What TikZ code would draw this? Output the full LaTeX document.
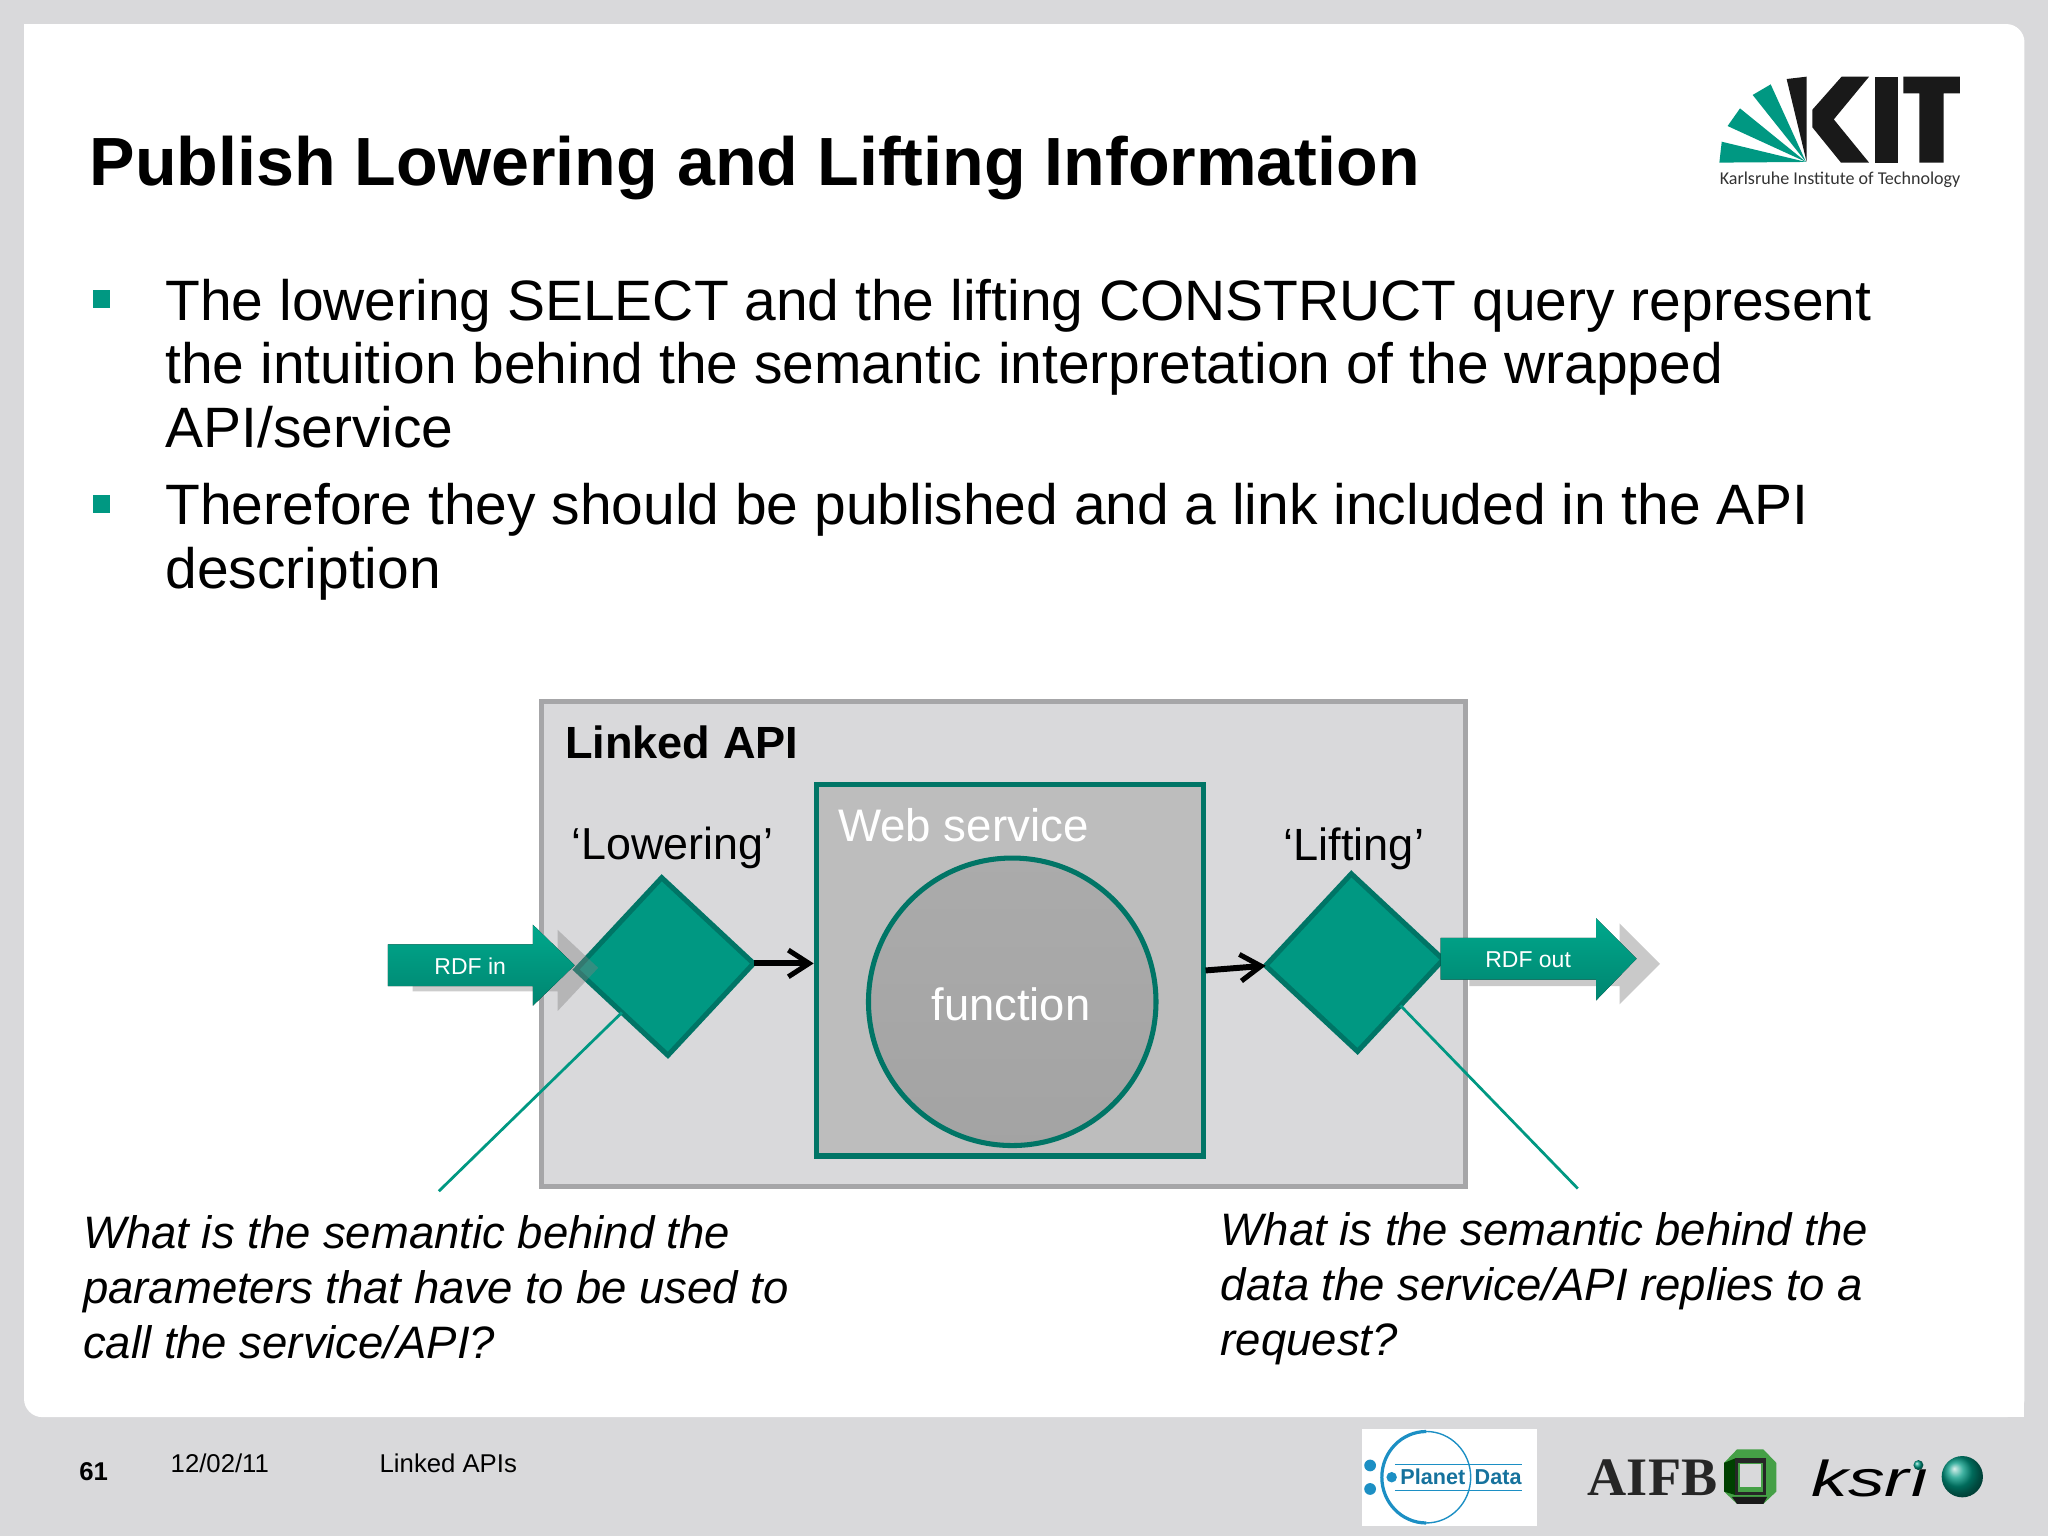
\documentclass[tikz,border=0pt]{standalone}
\usepackage{fontspec}
\setmainfont{Liberation Sans}
\newfontfamily\kitfont{Carlito}
\usetikzlibrary{arrows.meta,shapes.geometric}
\definecolor{kitteal}{HTML}{009882}
\definecolor{kitdark}{HTML}{007566}
\definecolor{arrowlight}{HTML}{00A88C}
\definecolor{arrowdeep}{HTML}{008570}
\definecolor{slidegrey}{HTML}{D9D9DB}
\definecolor{framegrey}{HTML}{A6A6A8}
\definecolor{planetblue}{HTML}{1C8FC4}
\definecolor{aifbgreen}{HTML}{45A046}
\tikzset{
    bodytext/.style={anchor=north west, align=left, inner sep=0, font=\fontsize{12.4pt}{13.8pt}\selectfont},
    asktext/.style={anchor=north west, align=left, inner sep=0, font=\fontsize{9.9pt}{12pt}\selectfont\itshape},
    foottext/.style={anchor=west, inner sep=0, font=\fontsize{5.6pt}{7pt}\selectfont},
    rdftext/.style={inner sep=0, text=white, font=\fontsize{5pt}{6pt}\selectfont},
    shiftbox/.style={diamond, draw=kitdark, fill=kitteal, line width=1.1pt, aspect=1, inner sep=0, outer sep=0, minimum size=1.36cm, rotate=2},
    callout/.style={draw=kitteal, line width=0.6pt},
    hop/.style={draw=black, line width=1.3pt, -{Straight Barb[length=4.5pt,width=5.8pt,line width=1.1pt]}},
    rdfarrow/.style={top color=arrowlight, bottom color=arrowdeep}
}
\begin{document}
\begin{tikzpicture}[x=0.01cm,y=-0.01cm]
    \useasboundingbox (0,0) rectangle (1568,1176);
    \fill[slidegrey] (0,0) rectangle (1568,1176);
    \fill[white, rounded corners=0.14cm] (18.4,18.4) rectangle (1550,1085);
    \fill[white] (18.4,18.4) rectangle (60,60);
    \fill[white] (1500,1040) rectangle (1550,1085);

    \node[anchor=base west, inner sep=0, font=\fontsize{14.85pt}{17pt}\selectfont\bfseries] (title) at (68,142) {Publish Lowering and Lifting Information};

    \fill[kitteal] (71,222) rectangle (84,236);
    \fill[kitteal] (71,379) rectangle (84,393);
    \node[bodytext] (first) at (126,213) {The lowering SELECT and the lifting CONSTRUCT query represent\\the intuition behind the semantic interpretation of the wrapped\\API/service};
    \node[bodytext] (second) at (126,369.5) {Therefore they should be published and a link included in the API\\description};

    \node[draw=framegrey, fill=slidegrey, line width=1.1pt, minimum width=7.07cm, minimum height=3.71cm, inner sep=0] (linkedapi) at (768.5,722.5) {};
    \node[draw=kitdark, fill=black!26, line width=1.1pt, minimum width=2.96cm, minimum height=2.84cm, inner sep=0] (webservice) at (773,743) {};
    \node[circle, draw=kitdark, top color=black!33, bottom color=black!36, line width=1.1pt, minimum size=2.2cm, inner sep=0] (function) at (775,767) {};
    \node[inner sep=0, text=white, font=\fontsize{9.87pt}{12pt}\selectfont] (functionlabel) at (774,769) {function};
    \node[anchor=base west, inner sep=0, font=\fontsize{9.82pt}{11pt}\selectfont\bfseries] (apilabel) at (432,581) {Linked API};
    \node[anchor=base west, inner sep=0, text=white, font=\fontsize{9.94pt}{12pt}\selectfont] (weblabel) at (641,644) {Web service};
    \node[anchor=base west, inner sep=0, font=\fontsize{9.76pt}{12pt}\selectfont] (lowerlabel) at (437,658) {‘Lowering’};
    \node[anchor=base west, inner sep=0, font=\fontsize{9.83pt}{12pt}\selectfont] (liftlabel) at (982,659) {‘Lifting’};

    \node[shiftbox] (lowering) at (509,740) {};
    \node[shiftbox] (lifting) at (1037,737) {};

    \draw[hop] (lowering.east) -- (webservice.west |- lowering.east);
    \draw[hop] (webservice.east) -- (lifting.west);

    \coordinate (lowerend) at (336,912);
    \coordinate (liftend) at (1208,910);
    \draw[callout] (lowering.south west) -- (lowerend);
    \draw[callout] (lifting.south east) -- (liftend);

    \fill[black!50, opacity=0.4] (316,730) -- (427,730) -- (427,712) -- (458,741) -- (427,774) -- (427,759) -- (316,759) -- cycle;
    \fill[black!21] (1125,725) -- (1240,725) -- (1240,707) -- (1271,738) -- (1240,769) -- (1240,755) -- (1125,755) -- cycle;
    \fill[rdfarrow] (297,723) -- (408,723) -- (408,708) -- (440,739) -- (408,770) -- (408,755) -- (297,755) -- cycle;
    \fill[rdfarrow] (1103,718) -- (1222,718) -- (1222,703) -- (1253,734) -- (1222,766) -- (1222,750) -- (1103,750) -- cycle;
    \node[rdftext] (rdfin) at (360,740) {RDF in};
    \node[rdftext] (rdfout) at (1170,735) {RDF out};

    \node[asktext] (askleft) at (63,930) {What is the semantic behind the\\parameters that have to be used to\\call the service/API?};
    \node[asktext] (askright) at (934,927.5) {What is the semantic behind the\\data the service/API replies to a\\request?};

    \node[foottext, font=\fontsize{5.6pt}{7pt}\selectfont\bfseries] (pageno) at (60,1127) {61};
    \node[foottext] (date) at (130,1120) {12/02/11};
    \node[foottext] (topic) at (290,1120) {Linked APIs};

    \fill[kitteal] (1382.7,124) -- (1316.4,124.5) -- (1318.2,108.5) -- cycle;
    \fill[kitteal] (1382.7,124) -- (1322.7,96.5) -- (1332.2,83) -- cycle;
    \fill[kitteal] (1382.7,124) -- (1341.9,72.7) -- (1355.7,64.6) -- cycle;
    \fill[black!90] (1383.2,124) -- (1367.9,60.5) -- (1383.2,58.7) -- cycle;
    \fill[black!90] (1387.6,84) -- (1410,58.7) -- (1431,58.7) -- (1404,91.4) -- (1431,124.5) -- (1409.5,124.5) -- (1387.6,97.5) -- cycle;
    \fill[black!90] (1435.6,58.7) rectangle (1453.4,124.5);
    \fill[black!90] (1457.3,58.7) -- (1500.6,58.7) -- (1500.6,71.5) -- (1488,71.5) -- (1488,124.5) -- (1469.5,124.5) -- (1469.5,71.5) -- (1457.3,71.5) -- cycle;
    \node[anchor=base west, inner sep=0, text=black!80, font=\kitfont\fontsize{3.93pt}{4.5pt}\selectfont] (kitname) at (1316,141) {Karlsruhe Institute of Technology};

    \fill[white] (1043,1094) rectangle (1177,1168);
    \draw[planetblue, line width=0.2pt] (1068,1121) -- (1165,1121);
    \draw[planetblue, line width=0.2pt] (1068,1141) -- (1165,1141);
    \draw[planetblue, line width=0.3pt] (1092,1131) ellipse (0.34cm and 0.35cm);
    \draw[planetblue, line width=0.7pt] (1092,1096) arc (90:270:0.34cm and 0.35cm);
    \fill[planetblue] (1049,1122) circle (0.045cm);
    \fill[planetblue] (1049,1140) circle (0.045cm);
    \fill[planetblue] (1065.5,1131) circle (0.04cm);
    \node[inner sep=0, text=planetblue!80!black, font=\fontsize{4.7pt}{5pt}\selectfont\bfseries] (planet) at (1097,1131) {Planet};
    \node[inner sep=0, text=planetblue!80!black, font=\fontsize{4.7pt}{5pt}\selectfont\bfseries] (data) at (1147,1131) {Data};

    \node[anchor=base west, inner sep=0, text=black!85, font=\fontspec{Liberation Serif}\fontsize{11.8pt}{13pt}\selectfont\bfseries] (aifb) at (1215,1145) {AIFB};
    \fill[aifbgreen] (1330,1109.6) -- (1350,1109.6) -- (1360,1120) -- (1360,1142) -- (1350,1151.5) -- (1330,1151.5) -- (1320,1142) -- (1320,1120) -- cycle;
    \fill[black!75!green] (1320,1120) -- (1328.5,1116.6) -- (1328.5,1144.6) -- (1320,1142) -- cycle;
    \fill[black!90] (1326,1146) -- (1353,1146) -- (1350,1151.5) -- (1330,1151.5) -- cycle;
    \fill[black!85] (1328.5,1116.6) rectangle (1351.8,1144.6);
    \fill[aifbgreen] (1330.5,1120) rectangle (1349.5,1142);
    \fill[slidegrey] (1332.5,1121) rectangle (1348.5,1138.5);

    \node[anchor=base west, inner sep=0, xscale=1.45, font=\fontsize{11pt}{12pt}\selectfont\itshape] (ksri) at (1386,1146) {ksrı};
    \shade[ball color=kitteal] (1468.8,1121.7) circle (0.038cm);
    \shade[ball color=kitteal] (1502.4,1130.6) circle (0.158cm);
\end{tikzpicture}
\end{document}
